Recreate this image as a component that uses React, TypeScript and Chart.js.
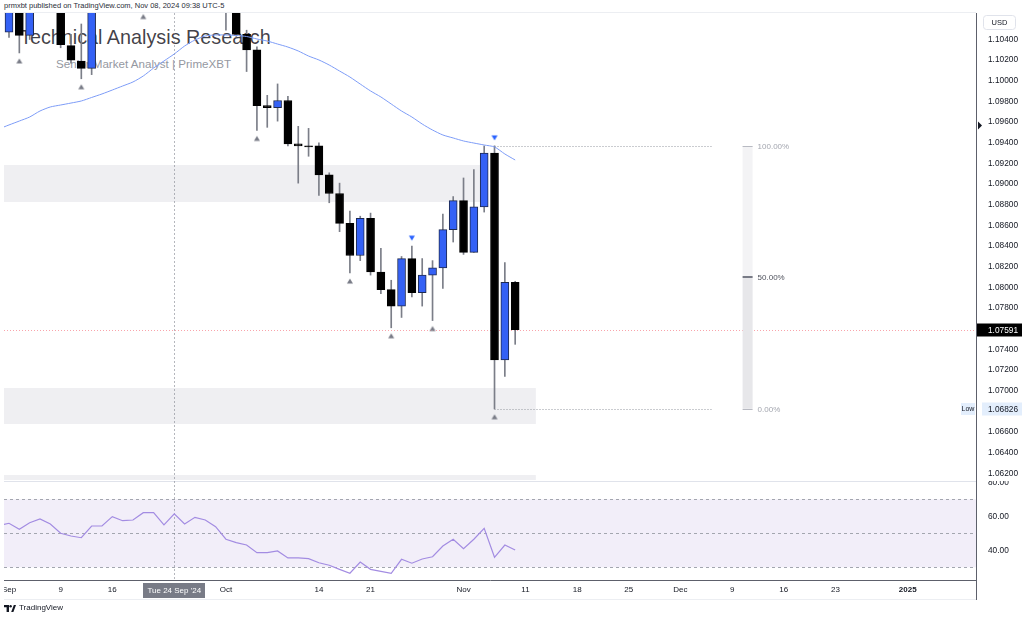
import React, { useEffect, useRef } from 'react';
import { Chart, registerables } from 'chart.js';

Chart.register(...registerables);

// ---- data: EURUSD daily, trading days starting Fri 30 Aug 2024 (index 0) ----
const opens = [1.1077, 1.1047, 1.1073, 1.1044, 1.1088, 1.1112, 1.1085, 1.1034, 1.1019, 1.1012, 1.1075, 1.1076, 1.1132, 1.1115, 1.1118, 1.1163, 1.1164, 1.1112, 1.1178, 1.1133, 1.1178, 1.1163, 1.1135, 1.1067, 1.1045, 1.1030, 1.0976, 1.0974, 1.0981, 1.0939, 1.0937, 1.0937, 1.0909, 1.0891, 1.0862, 1.0831, 1.0867, 1.0815, 1.0798, 1.0782, 1.0828, 1.0795, 1.0812, 1.0819, 1.0856, 1.0884, 1.0834, 1.0878, 1.0930, 1.0730, 1.0805];
const highs = [1.1088, 1.1085, 1.1080, 1.1090, 1.1120, 1.1155, 1.1090, 1.1045, 1.1055, 1.1083, 1.1101, 1.1140, 1.1147, 1.1189, 1.1180, 1.1180, 1.1170, 1.1182, 1.1214, 1.1189, 1.1202, 1.1196, 1.1150, 1.1083, 1.1049, 1.1033, 1.0986, 1.0997, 1.0985, 1.0956, 1.0954, 1.0940, 1.0911, 1.0901, 1.0874, 1.0869, 1.0872, 1.0838, 1.0807, 1.0830, 1.0840, 1.0828, 1.0826, 1.0871, 1.0888, 1.0906, 1.0914, 1.0937, 1.0937, 1.0824, 1.0806];
const lows = [1.1040, 1.1042, 1.1027, 1.1040, 1.1078, 1.1066, 1.1032, 1.1017, 1.1002, 1.1006, 1.1071, 1.1070, 1.1100, 1.1101, 1.1070, 1.1135, 1.1084, 1.1110, 1.1125, 1.1120, 1.1143, 1.1130, 1.1049, 1.1043, 1.1009, 1.0952, 1.0955, 1.0961, 1.0937, 1.0901, 1.0927, 1.0889, 1.0882, 1.0854, 1.0814, 1.0826, 1.0812, 1.0794, 1.0761, 1.0771, 1.0791, 1.0782, 1.0768, 1.0799, 1.0844, 1.0832, 1.0834, 1.0873, 1.06826, 1.0714, 1.0745];
const closes = [1.1047, 1.1073, 1.1044, 1.1088, 1.1112, 1.1085, 1.1035, 1.1020, 1.1012, 1.1075, 1.1076, 1.1132, 1.1115, 1.1118, 1.1163, 1.1164, 1.1112, 1.1178, 1.1133, 1.1178, 1.1163, 1.1135, 1.1067, 1.1045, 1.1030, 1.0976, 1.0974, 1.0981, 1.0939, 1.0937, 1.0936, 1.0909, 1.0891, 1.0862, 1.0831, 1.0867, 1.0815, 1.0798, 1.0782, 1.0828, 1.0795, 1.0812, 1.0819, 1.0856, 1.0884, 1.0834, 1.0878, 1.0930, 1.0730, 1.0805, 1.07591];
const maValues = [1.09534, 1.09573, 1.09611, 1.0965, 1.09708, 1.09747, 1.09766, 1.09785, 1.09805, 1.09839, 1.09873, 1.09911, 1.0995, 1.09989, 1.10047, 1.10124, 1.10192, 1.1026, 1.10337, 1.10395, 1.10434, 1.10444, 1.10444, 1.10439, 1.10429, 1.10405, 1.10385, 1.10356, 1.10327, 1.10289, 1.1024, 1.10202, 1.10153, 1.10095, 1.10037, 1.09969, 1.09902, 1.09844, 1.09776, 1.09708, 1.0965, 1.09582, 1.09524, 1.09476, 1.09447, 1.09418, 1.09398, 1.09379, 1.0936, 1.09292, 1.09234];
const rsiValues = [54.5, 55.9, 52.4, 56.2, 58.4, 55.5, 50.0, 48.4, 47.4, 54.3, 54.3, 59.8, 57.4, 57.8, 62.1, 62.1, 54.9, 61.4, 55.5, 59.4, 57.8, 53.9, 46.5, 44.5, 43.1, 38.6, 38.6, 39.6, 35.5, 35.5, 35.1, 32.7, 31.2, 28.8, 26.5, 33.1, 28.8, 27.6, 26.5, 34.7, 32.4, 34.9, 36.2, 42.5, 46.5, 40.9, 46.5, 52.9, 35.9, 43.1, 40.2];

const pivotLowIdx = [2, 8, 14, 25, 34, 38, 42, 48];
const pivotHighIdx = [40, 48];

const timeTickIdx = [1, 6, 11, 22, 31, 36, 45, 51, 56, 61, 66, 71, 76, 81, 88];
const timeLabels = ['Sep', '9', '16', 'Oct', '14', '21', 'Nov', '11', '18', '25', 'Dec', '9', '16', '23', '2025'];
const crosshairIdx = 17;
const crosshairLabel = "Tue 24 Sep '24";

const priceTicks = [1.062, 1.064, 1.066, 1.070, 1.072, 1.074, 1.078, 1.080, 1.082, 1.084, 1.086, 1.088, 1.090, 1.092, 1.094, 1.096, 1.098, 1.100, 1.102, 1.104];
const rsiTicks = [40, 60, 80];
const rsiLevels = [70, 50, 30];

const zoneTop = [1.09185, 1.07027, 1.06185];
const zoneBottom = [1.08827, 1.06679, 1.059];
const zoneEnd = [47, 52, 52];

const fibFromIdx = 48;
const fibToIdx = 69;
const fibBarIdx = 72.5;
const fibLevels = [1, 0.5, 0];

// axis ranges
const xMin = 0.516;
const xMax = 94.61;
const priceMin = 1.06137;
const priceMax = 1.106565;
const rsiMin = 22.53;
const rsiMax = 80.76;

const FONT = '"Liberation Sans", Arial, Helvetica, sans-serif';
const UP = '#3461f5';
const DOWN = '#000000';
const AXIS = '#5d606b';
const TEXT = '#131722';

function makeMarker(color: string, down: boolean) {
  const c = document.createElement('canvas');
  c.width = 12;
  c.height = 30;
  const g = c.getContext('2d')!;
  g.fillStyle = color;
  g.beginPath();
  if (!down) {
    g.moveTo(6, 15 + 5.5);
    g.lineTo(9, 15 + 10.5);
    g.lineTo(3, 15 + 10.5);
  } else {
    g.moveTo(3, 15 - 10.5);
    g.lineTo(9, 15 - 10.5);
    g.lineTo(6, 15 - 5.5);
  }
  g.closePath();
  g.fill();
  return c;
}

function hline(ctx: CanvasRenderingContext2D, x1: number, x2: number, y: number) {
  ctx.beginPath();
  ctx.moveTo(x1, y);
  ctx.lineTo(x2, y);
  ctx.stroke();
}

function roundRect(ctx: CanvasRenderingContext2D, x: number, y: number, w: number, h: number, r: number) {
  ctx.beginPath();
  ctx.moveTo(x + r, y);
  ctx.lineTo(x + w - r, y);
  ctx.quadraticCurveTo(x + w, y, x + w, y + r);
  ctx.lineTo(x + w, y + h - r);
  ctx.quadraticCurveTo(x + w, y + h, x + w - r, y + h);
  ctx.lineTo(x + r, y + h);
  ctx.quadraticCurveTo(x, y + h, x, y + h - r);
  ctx.lineTo(x, y + r);
  ctx.quadraticCurveTo(x, y, x + r, y);
  ctx.closePath();
}

const mainOverlay = {
  id: 'mainOverlay',
  beforeDatasetsDraw(chart: any) {
    const { ctx, chartArea: a } = chart;
    const x = chart.scales.x;
    const y = chart.scales.y;
    ctx.save();
    ctx.beginPath();
    ctx.rect(a.left, a.top, a.right - a.left, a.bottom - a.top);
    ctx.clip();
    // zones
    ctx.fillStyle = '#efeff2';
    zoneTop.forEach((t, k) => {
      const y1 = y.getPixelForValue(t);
      const y2 = y.getPixelForValue(zoneBottom[k]);
      const x2 = x.getPixelForValue(zoneEnd[k]);
      ctx.fillRect(a.left, y1, x2 - a.left, y2 - y1);
    });
    // crosshair
    const cx = Math.round(x.getPixelForValue(crosshairIdx)) + 0.5;
    ctx.lineWidth = 1;
    ctx.strokeStyle = 'rgba(120,123,134,0.55)';
    ctx.setLineDash([2, 2]);
    ctx.beginPath();
    ctx.moveTo(cx, a.top);
    ctx.lineTo(cx, a.bottom);
    ctx.stroke();
    // current price line
    const last = closes[closes.length - 1];
    const py = Math.round(y.getPixelForValue(last)) + 0.5;
    ctx.strokeStyle = 'rgba(242,54,69,0.45)';
    ctx.setLineDash([1, 2]);
    hline(ctx, a.left, a.right, py);
    // fib retracement
    const fh = highs[fibFromIdx];
    const fl = lows[fibFromIdx];
    const fx1 = x.getPixelForValue(fibFromIdx);
    const fx2 = x.getPixelForValue(fibToIdx);
    const bx = x.getPixelForValue(fibBarIdx);
    const lvY = (l: number) => y.getPixelForValue(fl + (fh - fl) * l);
    ctx.strokeStyle = '#9598a1';
    ctx.setLineDash([1, 2]);
    hline(ctx, fx1, fx2, Math.round(lvY(1)) + 0.5);
    hline(ctx, fx1, fx2, Math.round(lvY(0)) + 0.5);
    ctx.setLineDash([]);
    ctx.fillStyle = '#f3f3f5';
    ctx.fillRect(bx - 5, lvY(1), 10, lvY(0.5) - lvY(1));
    ctx.fillStyle = '#e7e7ea';
    ctx.fillRect(bx - 5, lvY(0.5), 10, lvY(0) - lvY(0.5));
    ctx.font = `8px ${FONT}`;
    ctx.textBaseline = 'middle';
    ctx.textAlign = 'left';
    fibLevels.forEach((l) => {
      const ly = Math.round(lvY(l));
      const mid = l === 0.5;
      ctx.strokeStyle = mid ? '#787b86' : '#b8bac2';
      ctx.lineWidth = mid ? 2 : 1;
      hline(ctx, bx - 5, bx + 5, mid ? ly : ly + 0.5);
      ctx.fillStyle = mid ? '#50535e' : '#a3a6af';
      ctx.fillText(`${(l * 100).toFixed(2)}%`, bx + 10, ly + 0.5);
    });
    ctx.restore();
  },
  afterDraw(chart: any) {
    const { ctx, chartArea: a } = chart;
    const y = chart.scales.y;
    ctx.save();
    // top frame line
    ctx.strokeStyle = '#eceef2';
    ctx.lineWidth = 1;
    hline(ctx, a.left, a.right, a.top - 0.5);
    ctx.font = `8.3px ${FONT}`;
    ctx.textBaseline = 'middle';
    ctx.textAlign = 'left';
    // USD box
    roundRect(ctx, a.right + 7.5, 15.5, 32, 14, 3);
    ctx.fillStyle = '#ffffff';
    ctx.fill();
    ctx.strokeStyle = '#e0e3eb';
    ctx.stroke();
    ctx.fillStyle = TEXT;
    ctx.font = `7.5px ${FONT}`;
    ctx.textAlign = 'center';
    ctx.fillText('USD', a.right + 23.5, 22.8);
    // current price label
    ctx.textAlign = 'left';
    ctx.font = `8.3px ${FONT}`;
    const last = closes[closes.length - 1];
    const py = Math.round(y.getPixelForValue(last));
    ctx.fillStyle = '#000000';
    ctx.fillRect(a.right + 1, py - 6.5, 45, 13);
    ctx.fillStyle = '#ffffff';
    ctx.fillText(last.toFixed(5), a.right + 12, py + 0.5);
    // Low label
    const low = Math.min(...lows);
    const ly = Math.round(y.getPixelForValue(low));
    ctx.fillStyle = '#e3eefc';
    ctx.fillRect(a.right + 6, ly - 6.5, 40, 13);
    ctx.fillRect(a.right - 15, ly - 6, 14, 12);
    ctx.fillStyle = TEXT;
    ctx.fillText(low.toFixed(5), a.right + 12, ly + 0.5);
    ctx.font = `7px ${FONT}`;
    ctx.textAlign = 'center';
    ctx.fillText('Low', a.right - 8, ly + 0.5);
    // small scale marker
    ctx.fillStyle = '#131722';
    ctx.beginPath();
    ctx.moveTo(a.right + 2, 121.5);
    ctx.lineTo(a.right + 6, 125.5);
    ctx.lineTo(a.right + 2, 129.5);
    ctx.closePath();
    ctx.fill();
    ctx.restore();
  },
};

const rsiOverlay = {
  id: 'rsiOverlay',
  beforeDatasetsDraw(chart: any) {
    const { ctx, chartArea: a } = chart;
    const x = chart.scales.x;
    const y = chart.scales.y;
    ctx.save();
    ctx.strokeStyle = '#e0e3eb';
    ctx.lineWidth = 1;
    hline(ctx, a.left, a.right, 0.5);
    const yTop = y.getPixelForValue(rsiLevels[0]);
    const yBot = y.getPixelForValue(rsiLevels[rsiLevels.length - 1]);
    ctx.fillStyle = 'rgba(126,87,194,0.1)';
    ctx.fillRect(a.left, yTop, a.right - a.left, yBot - yTop);
    ctx.strokeStyle = '#a3a6af';
    ctx.setLineDash([3, 3]);
    rsiLevels.forEach((l) => hline(ctx, a.left, a.right, Math.round(y.getPixelForValue(l)) + 0.5));
    const cx = Math.round(x.getPixelForValue(crosshairIdx)) + 0.5;
    ctx.strokeStyle = 'rgba(120,123,134,0.55)';
    ctx.setLineDash([2, 2]);
    ctx.beginPath();
    ctx.moveTo(cx, a.top);
    ctx.lineTo(cx, a.bottom);
    ctx.stroke();
    ctx.restore();
  },
  afterDraw(chart: any) {
    const { ctx, chartArea: a } = chart;
    const x = chart.scales.x;
    ctx.save();
    // right axis line through time axis
    ctx.strokeStyle = AXIS;
    ctx.lineWidth = 1;
    ctx.beginPath();
    ctx.moveTo(a.right + 0.5, a.bottom);
    ctx.lineTo(a.right + 0.5, a.bottom + 20);
    ctx.stroke();
    ctx.strokeStyle = '#eceef2';
    hline(ctx, 0, a.right, a.bottom + 19.5);
    // crosshair label
    const cx = x.getPixelForValue(crosshairIdx);
    ctx.fillStyle = '#787b86';
    ctx.fillRect(Math.round(cx - 31), a.bottom + 3, 62, 15);
    ctx.fillStyle = '#ffffff';
    ctx.font = `8px ${FONT}`;
    ctx.textAlign = 'center';
    ctx.textBaseline = 'middle';
    ctx.fillText(crosshairLabel, cx, a.bottom + 10.8);
    ctx.restore();
  },
};

export default function App() {
  const mainRef = useRef<HTMLCanvasElement>(null);
  const rsiRef = useRef<HTMLCanvasElement>(null);

  useEffect(() => {
    const lowMarker = makeMarker('#787b86', false);
    const highMarker = makeMarker('#2962ff', true);
    const idx = opens.map((_, i) => i);
    const isUp = (i: number) => closes[i] >= opens[i];

    const main = new Chart(mainRef.current!, {
      type: 'bar',
      data: {
        datasets: [
          {
            type: 'line',
            data: maValues.map((v, i) => ({ x: i, y: v })),
            borderColor: '#7d9cf7',
            borderWidth: 1,
            pointRadius: 0,
            tension: 0.25,
            clip: 0,
            order: 0,
          } as any,
          {
            type: 'scatter',
            data: pivotLowIdx.map((i) => ({ x: i, y: lows[i] })),
            pointStyle: lowMarker,
            pointRadius: 5,
            pointHoverRadius: 5,
            clip: 0,
            order: 0,
          } as any,
          {
            type: 'scatter',
            data: pivotHighIdx.map((i) => ({ x: i, y: highs[i] })),
            pointStyle: highMarker,
            pointRadius: 5,
            pointHoverRadius: 5,
            clip: 0,
            order: 0,
          } as any,
          {
            type: 'bar',
            data: idx.map((i) => ({ x: i, y: [opens[i], closes[i]] })),
            backgroundColor: idx.map((i) => (isUp(i) ? UP : DOWN)),
            borderColor: idx.map((i) => (isUp(i) ? '#1e2a50' : DOWN)),
            borderWidth: 1,
            borderSkipped: false,
            barThickness: 8,
            grouped: false,
            clip: 0,
            order: 1,
          } as any,
          {
            type: 'bar',
            data: idx.map((i) => ({ x: i, y: [lows[i], highs[i]] })),
            backgroundColor: '#7b7e88',
            barThickness: 1,
            grouped: false,
            clip: 0,
            order: 2,
          } as any,
        ],
      },
      options: {
        animation: false,
        responsive: false,
        maintainAspectRatio: false,
        events: [],
        layout: { autoPadding: false, padding: { top: 13, bottom: 1, left: 0, right: 0 } },
        plugins: { legend: { display: false }, tooltip: { enabled: false } },
        scales: {
          x: { type: 'linear', min: xMin, max: xMax, display: false, offset: false },
          y: {
            type: 'linear',
            position: 'right',
            min: priceMin,
            max: priceMax,
            grid: { display: false, drawTicks: false },
            border: { display: true, color: AXIS, width: 1 },
            afterBuildTicks: (s: any) => {
              s.ticks = priceTicks.map((v) => ({ value: v }));
            },
            afterFit: (s: any) => {
              s.width = 48;
              s.paddingTop = 0;
              s.paddingBottom = 0;
            },
            ticks: {
              autoSkip: false,
              padding: 12,
              color: TEXT,
              font: { family: FONT, size: 8.3 },
              callback: (v: any) => Number(v).toFixed(5),
            },
          },
        },
      } as any,
      plugins: [mainOverlay],
    });

    const rsi = new Chart(rsiRef.current!, {
      type: 'line',
      data: {
        datasets: [
          {
            data: rsiValues.map((v, i) => ({ x: i, y: v })),
            borderColor: '#a38ce2',
            borderWidth: 1.2,
            pointRadius: 0,
            tension: 0,
            clip: 0,
          } as any,
        ],
      },
      options: {
        animation: false,
        responsive: false,
        maintainAspectRatio: false,
        events: [],
        layout: { autoPadding: false, padding: { top: 0, bottom: 17, left: 0, right: 0 } },
        plugins: { legend: { display: false }, tooltip: { enabled: false } },
        scales: {
          x: {
            type: 'linear',
            position: 'bottom',
            min: xMin,
            max: xMax,
            offset: false,
            grid: { display: false, drawTicks: false },
            border: { display: true, color: AXIS, width: 1 },
            afterBuildTicks: (s: any) => {
              s.ticks = timeTickIdx.map((v) => ({ value: v }));
            },
            afterFit: (s: any) => {
              s.height = 20;
              s.paddingLeft = 0;
              s.paddingRight = 0;
            },
            ticks: {
              autoSkip: false,
              maxRotation: 0,
              minRotation: 0,
              padding: 5,
              color: TEXT,
              font: (c: any) => ({
                family: FONT,
                size: 8,
                weight: timeLabels[c.index] === '2025' ? 'bold' : 'normal',
              }),
              callback: (_v: any, i: number) => timeLabels[i],
            },
          },
          y: {
            type: 'linear',
            position: 'right',
            min: rsiMin,
            max: rsiMax,
            grid: { display: false, drawTicks: false },
            border: { display: true, color: AXIS, width: 1 },
            afterBuildTicks: (s: any) => {
              s.ticks = rsiTicks.map((v) => ({ value: v }));
            },
            afterFit: (s: any) => {
              s.width = 48;
              s.paddingTop = 0;
              s.paddingBottom = 0;
            },
            ticks: {
              autoSkip: false,
              padding: 12,
              color: TEXT,
              font: { family: FONT, size: 8.3 },
              callback: (v: any) => Number(v).toFixed(2),
            },
          },
        },
      } as any,
      plugins: [rsiOverlay],
    });

    return () => {
      main.destroy();
      rsi.destroy();
    };
  }, []);

  return (
    <div
      style={{
        position: 'fixed',
        left: 0,
        top: 0,
        width: 1024,
        height: 617,
        background: '#ffffff',
        overflow: 'hidden',
        fontFamily: FONT,
      }}
    >
      <div style={{ position: 'absolute', left: 4, top: 2, fontSize: 7.5, lineHeight: '7.5px', color: '#2a2e39', whiteSpace: 'nowrap' }}>
        prmxbt published on TradingView.com, Nov 08, 2024 09:38 UTC-5
      </div>
      <div style={{ position: 'absolute', left: 20, top: 27.5, fontSize: 19.8, lineHeight: '19.8px', color: 'rgba(30,32,40,0.85)', whiteSpace: 'nowrap' }}>
        Technical Analysis Research
      </div>
      <div style={{ position: 'absolute', left: 56, top: 58, fontSize: 11.6, lineHeight: '11.6px', color: '#9598a1', whiteSpace: 'nowrap' }}>
        Senior Market Analyst | PrimeXBT
      </div>
      <canvas
        ref={mainRef}
        width={1020}
        height={481}
        style={{ position: 'absolute', left: 4, top: 0, width: 1020, height: 481 }}
      />
      <canvas
        ref={rsiRef}
        width={1020}
        height={136}
        style={{ position: 'absolute', left: 4, top: 481, width: 1020, height: 136 }}
      />
      <div style={{ position: 'absolute', left: 4, top: 604, display: 'flex', alignItems: 'center', gap: 3, fontSize: 8, lineHeight: '8px', color: TEXT }}>
        <svg width="12" height="7" viewBox="0 0 12 7">
          <path d="M0 0 H5 V7 H2.6 V2.3 H0 Z" fill="#131722" />
          <circle cx="6.6" cy="1.2" r="1.2" fill="#131722" />
          <path d="M7.2 7 L9.8 0 H12 L9.4 7 Z" fill="#131722" />
        </svg>
        <span>TradingView</span>
      </div>
    </div>
  );
}
